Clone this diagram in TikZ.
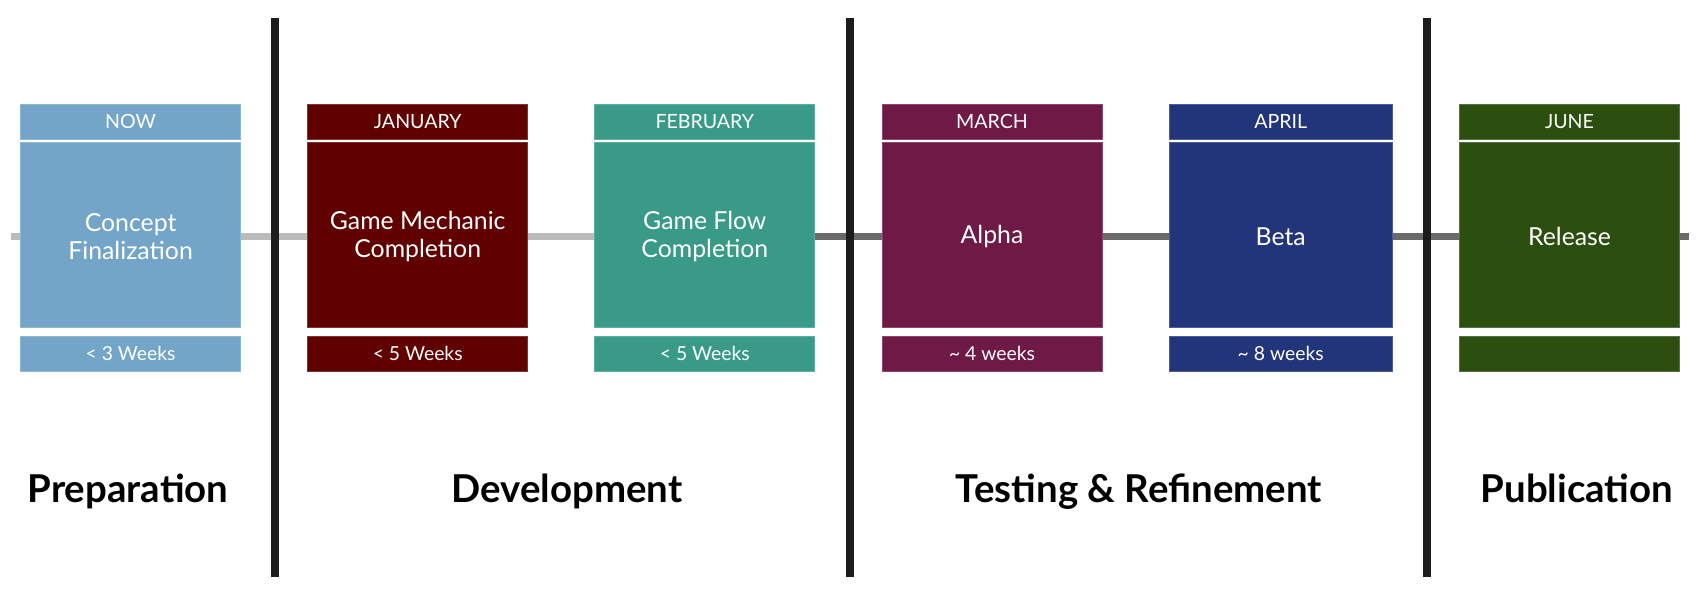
\documentclass[tikz,border=0pt]{standalone}
\usepackage{fontspec}
\setmainfont{Lato}
\definecolor{cNow}{HTML}{73A5C9}
\definecolor{cJan}{HTML}{600000}
\definecolor{cFeb}{HTML}{389A87}
\definecolor{cMar}{HTML}{6F1A46}
\definecolor{cApr}{HTML}{22357A}
\definecolor{cJun}{HTML}{2C4F10}
\definecolor{lineLight}{HTML}{BBBBBB}
\definecolor{lineDark}{HTML}{6A6A6A}
\definecolor{divider}{HTML}{1C1C1C}
\begin{document}
\begin{tikzpicture}[x=0.75pt,y=-0.75pt,
  card/.style={rectangle, inner sep=0pt, text=white, align=center,
    fill=#1, draw=#1!80!white, line width=0.6pt},
  headbox/.style={card=#1, minimum height=26.25pt, font=\fontsize{14.7}{17}\selectfont},
  bodybox/.style={card=#1, minimum height=138.4pt},
  bodytext/.style={inner sep=0pt, text=white, align=center, font=\fontsize{18.6}{20.6}\selectfont},
  footbox/.style={card=#1, minimum height=26.25pt, font=\fontsize{14.5}{17}\selectfont},
  phase/.style={anchor=base, font=\fontsize{28.8}{34}\selectfont\bfseries, text=black},
  rule/.style={line width=6pt, draw=divider}
]
\useasboundingbox (0,0) rectangle (1699,591);

% timeline ends
\coordinate (tlstart) at (11,237);
\coordinate (tlend) at (1689,237);
\coordinate (tlswitch) at (704.8,237);

% the time line runs behind the cards
\draw[line width=5.25pt, lineLight] (tlstart) -- (tlswitch);
\draw[line width=5.25pt, lineDark] (tlswitch) -- (tlend);

% milestone cards: header, body, footer
\foreach \i/\cx/\w/\col/\mon/\title/\dur in {
  1/130.6/165/cNow/NOW/{Concept\\Finalization}/{< 3 Weeks},
  2/417.7/165/cJan/JANUARY/{Game Mechanic\\Completion}/{< 5 Weeks},
  3/704.8/165/cFeb/FEBRUARY/{Game Flow\\Completion}/{< 5 Weeks},
  4/992.0/165/cMar/MARCH/{Alpha}/{\textasciitilde\ 4 weeks},
  5/1280.7/167/cApr/APRIL/{Beta}/{\textasciitilde\ 8 weeks},
  6/1569.5/165/cJun/JUNE/{Release}/{}}{
  \node[headbox=\col, minimum width=\w pt] (head\i) at (\cx,121.5) {\mon};
  \node[bodybox=\col, minimum width=\w pt] (body\i) at (\cx,234.7) {};
  \node[bodytext] (title\i) at ([yshift=-1.5pt]body\i.center) {\title};
  \node[footbox=\col, minimum width=\w pt] (foot\i) at (\cx,353.5) {\dur};
}

% phase separators
\coordinate (s1top) at (275,18);   \coordinate (s1bot) at (275,577);
\coordinate (s2top) at (850,18);   \coordinate (s2bot) at (850,577);
\coordinate (s3top) at (1426.5,18);\coordinate (s3bot) at (1426.5,577);
\draw[rule] (s1top) -- (s1bot);
\draw[rule] (s2top) -- (s2bot);
\draw[rule] (s3top) -- (s3bot);

% phase names
\node[phase] (pPrep) at (128,502) {Preparation};
\node[phase] (pDev) at (567,502) {Development};
\node[phase] (pTest) at (1139,502) {Testing \& Refinement};
\node[phase] (pPub) at (1577,502) {Publication};
\end{tikzpicture}
\end{document}
